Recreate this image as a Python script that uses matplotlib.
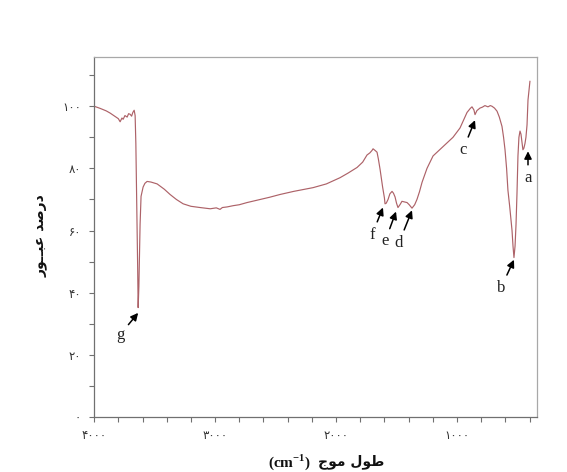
import matplotlib
matplotlib.use("Agg")
import matplotlib.pyplot as plt
from matplotlib.ticker import FixedLocator, MultipleLocator

# ---- data ----
wavenumber = [4000, 3950, 3900, 3868, 3830, 3800, 3785, 3770, 3760, 3745, 3727, 3715, 3702, 3690, 3680,
              3669, 3661, 3655, 3648, 3640, 3636, 3630, 3620, 3612, 3595, 3580, 3562, 3530, 3479,
              3420, 3372, 3320, 3264, 3200, 3124, 3040, 2990, 2959, 2940, 2900, 2850, 2800,
              2736, 2650, 2550, 2463, 2350, 2190, 2080, 1967, 1900, 1826, 1780, 1744, 1720,
              1702, 1694, 1675, 1661, 1650, 1636, 1615, 1600, 1595, 1585, 1570, 1555, 1537,
              1525, 1512, 1500, 1488, 1470, 1455, 1435, 1413, 1395, 1372, 1350, 1331, 1310,
              1289, 1248, 1198, 1116, 1033, 975, 917, 890, 876, 860, 851, 835, 810, 790, 769,
              744, 725, 711, 690, 669, 650, 628, 615, 603, 590, 579, 565, 552, 545, 537, 529,
              520, 512, 504, 496, 488, 479, 471, 463, 455, 447, 438, 430, 421, 413, 405, 397]
transmittance = [100, 99.3, 98.5, 97.8, 96.8, 96.0, 95.0, 96.2, 95.8, 97.0, 96.5, 97.6, 97.4, 96.8, 98.0,
                 98.7, 97.0, 88.0, 70.0, 48.0, 35.2, 42.0, 62.0, 71.0, 74.0, 75.2, 75.8, 75.6, 75.0,
                 73.3, 71.6, 70.0, 68.6, 67.8, 67.4, 67.0, 67.3, 66.8, 67.4, 67.6, 68.0, 68.3,
                 69.0, 69.8, 70.7, 71.6, 72.6, 73.8, 75.0, 77.0, 78.5, 80.3, 82.0, 84.3, 85.0,
                 85.8, 86.3, 85.7, 85.2, 83.0, 79.7, 74.0, 70.5, 68.6, 68.8, 70.0, 71.8, 72.6,
                 72.0, 70.8, 68.8, 67.4, 68.4, 69.4, 69.2, 69.0, 68.3, 67.2, 68.3, 70.0, 72.5,
                 75.5, 80.0, 84.0, 87.0, 90.0, 93.0, 98.0, 99.3, 99.8, 98.8, 97.3, 98.6, 99.4, 99.7, 100.2,
                 99.8, 100.2, 100.0, 99.4, 98.4, 96.5, 93.5, 90.0, 86.0, 80.0, 73.0, 68.0, 63.0, 60.0, 55.0, 51.3,
                 55.0, 62.0, 72.0, 84.0, 90.0, 92.0, 91.0, 88.5, 86.0, 86.5, 88.0, 90.0, 94.0, 102.0, 105.0, 108.0]

x_ticks = [4000, 3000, 2000, 1000]
y_ticks = [0, 20, 40, 60, 80, 100]

peak_labels = ["g", "f", "e", "d", "c", "b", "a"]
peak_tips = [(3636, 33.5), (1612, 67.4), (1504, 66.1), (1372, 66.5), (851, 95.5), (529, 50.6), (413, 85.5)]
label_pos = [(3785, 26.5), (1702, 58.7), (1595, 56.5), (1479, 56.1), (950, 86.0), (636, 41.6), (413, 77.0)]

FA_DIGITS = str.maketrans("0123456789", "۰۱۲۳۴۵۶۷۸۹")

def fa(v):
    return str(int(v)).translate(FA_DIGITS)

# Arabic text in visual (left-to-right) order with presentation forms
xlabel_ar = "\uFE9D\uFEEE\uFEE3 \uFEDD\uFEEE\uFEC3"       # طول موج
ylabel_ar = "\uFEAD\uFEEE\u0640\u0640\uFE92\uFECB \uFEAA\uFEBB\uFEAD\uFEA9"  # درصد عبــور

plt.rcParams["mathtext.fontset"] = "custom"
plt.rcParams["mathtext.rm"] = "Liberation Serif:bold"
plt.rcParams["mathtext.bf"] = "Liberation Serif:bold"

fig = plt.figure(figsize=(5.67, 4.72), dpi=100)
ax = fig.add_axes([0.166, 0.1165, 0.781, 0.7625])

ax.plot(wavenumber, transmittance, color="#ad6268", lw=0.85)

ax.set_xlim(4000, 339)
ax.set_ylim(0, 115.8)

ax.xaxis.set_major_locator(FixedLocator(x_ticks))
ax.set_xticklabels([fa(v) for v in x_ticks])
ax.xaxis.set_minor_locator(MultipleLocator(200))
ax.yaxis.set_major_locator(FixedLocator(y_ticks))
ax.set_yticklabels([fa(v) for v in y_ticks])
ax.yaxis.set_minor_locator(MultipleLocator(10))

for sp in ax.spines.values():
    sp.set_color("#a8a8a8")
    sp.set_linewidth(0.9)
ax.spines["left"].set_color("#707070")
ax.spines["bottom"].set_color("#707070")

ax.tick_params(which="both", direction="out", length=3.5, width=0.8, color="#707070",
               labelsize=8.5, labelcolor="#333333")
ax.tick_params(axis="y", pad=6)
ax.tick_params(axis="x", pad=5)
ax.tick_params(top=False, right=False, which="both")

for lab, tip, pos in zip(peak_labels, peak_tips, label_pos):
    ax.annotate(lab, xy=tip, xytext=pos, ha="center", va="center",
                fontsize=12, family="Liberation Serif", color="#222222",
                arrowprops=dict(arrowstyle="-|>", color="black", lw=1.1,
                                mutation_scale=11, shrinkA=1.5, shrinkB=0))

# x label: "(cm^-1)" in serif bold + Arabic in DejaVu Sans bold
fig.text(0.548, 0.021, "(cm$^{\\mathregular{-1}}$)", ha="right", va="center",
         fontsize=11, fontweight="bold", family="Liberation Serif", color="#111111")
fig.text(0.560, 0.021, xlabel_ar, ha="left", va="center",
         fontsize=10, fontweight="bold", family=["DejaVu Sans"], color="#111111")
fig.text(0.072, 0.50, ylabel_ar, ha="center", va="center", rotation=90,
         fontsize=10, fontweight="bold", family=["DejaVu Sans"], color="#111111")

fig.savefig("out.png", dpi=100, facecolor="white")
